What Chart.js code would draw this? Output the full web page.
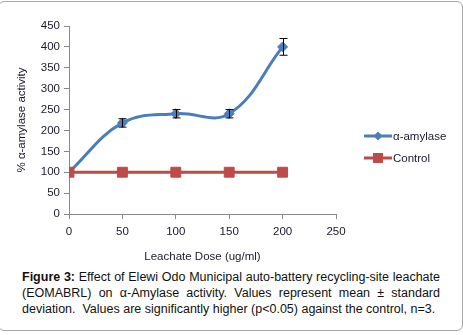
<!DOCTYPE html>
<html>
<head>
<meta charset="utf-8">
<script src="https://cdn.jsdelivr.net/npm/chart.js@4"></script>
<style>
  html, body { margin: 0; padding: 0; background: #fff; }
  #frame {
    position: absolute; left: -2px; top: 1px; width: 465px; height: 330px;
    border: 1px solid #a8a8a8; border-radius: 6px; box-sizing: border-box;
  }
  #box { position: absolute; left: 0; top: 0; width: 463px; height: 266px; }
  #caption {
    position: absolute; left: 22px; top: 269px; width: 418px;
    font-family: "Liberation Sans", Arial, sans-serif; font-size: 12.5px;
    line-height: 16px; text-align: justify; color: #111;
  }
</style>
</head>
<body>
<div id="frame"></div>
<div id="box"><canvas id="myChart"></canvas></div>
<div id="caption"><b>Figure 3:</b> Effect of Elewi Odo Municipal auto-battery recycling-site leachate (EOMABRL) on α-Amylase activity. Values represent mean ± standard deviation.&nbsp; Values are significantly higher (p&lt;0.05) against the control, n=3.</div>
<script>
// data
var doses = [0, 50, 100, 150, 200];
var amylase = [100, 218, 240, 240, 400];
var amylaseSd = [0, 10, 10, 10, 20];
var control = [100, 100, 100, 100, 100];
var legendNames = ["α-amylase", "Control"];

var blue = "#4a7ebb";
var red = "#be4b48";
var font = "'Liberation Sans', Arial, sans-serif";
var textColor = "#1a1a2e";

function toPoints(vals) {
  return doses.map((d, i) => ({ x: d, y: vals[i] }));
}

// error bars drawn through the scales
var errorBars = {
  id: "errorBars",
  afterDatasetsDraw(chart) {
    var ctx = chart.ctx;
    var xs = chart.scales.x, ys = chart.scales.y;
    ctx.save();
    ctx.strokeStyle = "#000";
    ctx.lineWidth = 1;
    doses.forEach((d, i) => {
      if (!amylaseSd[i]) return;
      var x = Math.round(xs.getPixelForValue(d)) + 0.5;
      var top = ys.getPixelForValue(amylase[i] + amylaseSd[i]);
      var bot = ys.getPixelForValue(amylase[i] - amylaseSd[i]);
      ctx.beginPath();
      ctx.moveTo(x, top); ctx.lineTo(x, bot);
      ctx.moveTo(x - 4, top); ctx.lineTo(x + 4, top);
      ctx.moveTo(x - 4, bot); ctx.lineTo(x + 4, bot);
      ctx.stroke();
    });
    ctx.restore();
  }
};

// excel style legend: line with marker, on the right
var sideLegend = {
  id: "sideLegend",
  afterDraw(chart) {
    var ctx = chart.ctx;
    var items = [
      { name: legendNames[0], color: blue, shape: "diamond", y: 136 },
      { name: legendNames[1], color: red, shape: "square", y: 158 }
    ];
    ctx.save();
    items.forEach(it => {
      ctx.strokeStyle = it.color;
      ctx.fillStyle = it.color;
      ctx.lineWidth = 3;
      ctx.beginPath();
      ctx.moveTo(364, it.y); ctx.lineTo(392, it.y);
      ctx.stroke();
      if (it.shape == "diamond") {
        ctx.beginPath();
        ctx.moveTo(378, it.y - 4.5); ctx.lineTo(382.5, it.y);
        ctx.lineTo(378, it.y + 4.5); ctx.lineTo(373.5, it.y);
        ctx.closePath(); ctx.fill();
      } else {
        ctx.fillRect(373, it.y - 5, 10, 10);
      }
      ctx.fillStyle = textColor;
      ctx.font = "11.5px " + font;
      ctx.textBaseline = "middle";
      ctx.fillText(it.name, 393, it.y + 1);
    });
    ctx.restore();
  }
};

var ctx = document.getElementById("myChart").getContext("2d");
var chart = new Chart(ctx, {
  type: "line",
  data: {
    datasets: [
      {
        label: legendNames[0],
        data: toPoints(amylase),
        order: 2,
        borderColor: blue,
        backgroundColor: blue,
        borderWidth: 3,
        tension: 0.4,
        pointStyle: "rectRot",
        pointRadius: 5,
        pointBorderWidth: 1,
        pointHoverRadius: 5
      },
      {
        label: legendNames[1],
        data: toPoints(control),
        order: 1,
        borderColor: red,
        backgroundColor: red,
        borderWidth: 3,
        tension: 0,
        pointStyle: "rect",
        pointRadius: 7,
        pointBorderWidth: 1,
        pointHoverRadius: 7
      }
    ]
  },
  options: {
    responsive: true,
    maintainAspectRatio: false,
    animation: false,
    layout: { padding: { top: 26, right: 127, left: 0, bottom: 0 } },
    plugins: { legend: { display: false }, tooltip: { enabled: false } },
    scales: {
      x: {
        type: "linear",
        min: 0, max: 250,
        ticks: { stepSize: 50, color: textColor, font: { family: font, size: 11.5 }, padding: 6 },
        grid: { drawOnChartArea: false, drawTicks: true, tickLength: 5, color: "#888" },
        border: { color: "#888" },
        title: { display: true, text: "Leachate Dose (ug/ml)", color: textColor, font: { family: font, size: 11.5 }, padding: { top: 0, bottom: 2 } },
        afterFit: s => { s.height = 52; }
      },
      y: {
        min: 0, max: 450,
        ticks: { stepSize: 50, color: textColor, font: { family: font, size: 11.5 }, padding: 4 },
        grid: { drawOnChartArea: false, drawTicks: true, tickLength: 5, color: "#888" },
        border: { color: "#888" },
        title: { display: true, text: "% α-amylase activity", color: textColor, font: { family: font, size: 11.5 }, padding: { top: 15, bottom: 0 } },
        afterFit: s => { s.width = 69; }
      }
    }
  },
  plugins: [errorBars, sideLegend]
});
</script>
</body>
</html>
